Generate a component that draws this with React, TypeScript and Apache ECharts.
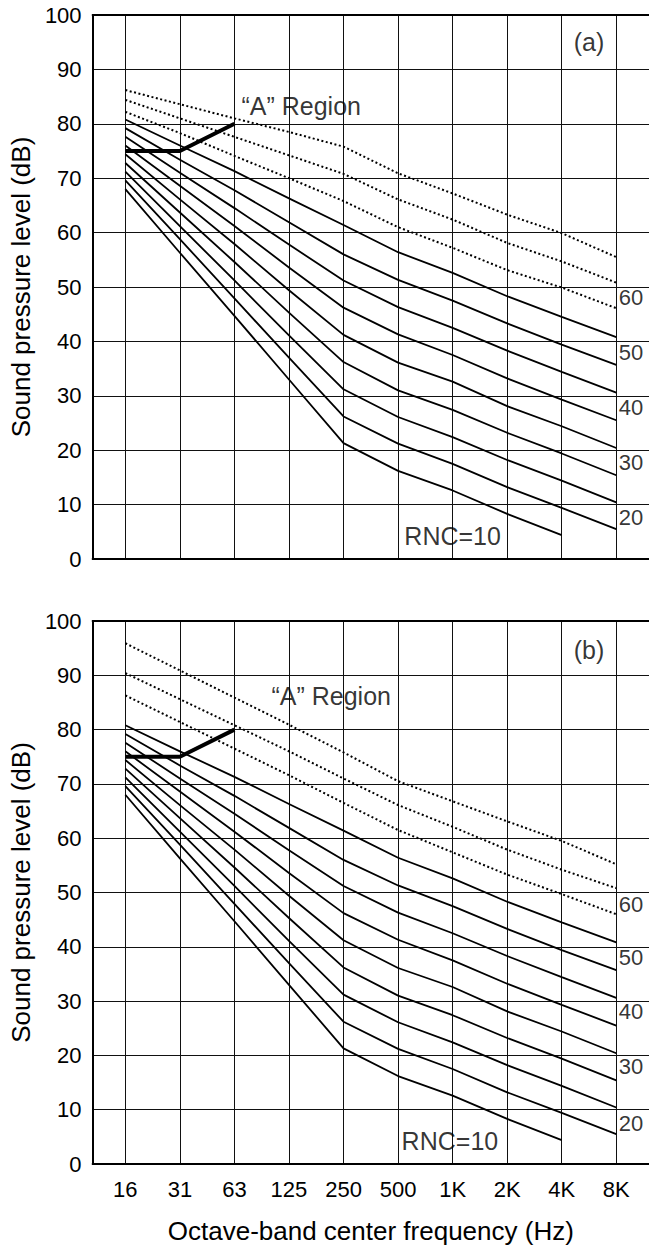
import React, { useEffect, useRef } from "react";
import * as echarts from "echarts";

// ---------- data ----------
const freqLabels = ["16", "31", "63", "125", "250", "500", "1K", "2K", "4K", "8K"];
const freqIdx = [0, 1, 2, 3, 4, 5, 6, 7, 8, 9];
const yTicks = { min: 0, max: 100, step: 10 };

// solid RNC curves (same in both panels), dB at each octave band
const rnc10 = [68.0, 56.3, 44.7, 33.0, 21.3, 16.2, 12.6, 8.3, 4.4, null];
const rnc15 = [69.6, 58.8, 47.9, 37.0, 26.2, 21.2, 17.5, 13.2, 9.4, 5.5];
const rnc20 = [71.2, 61.2, 51.2, 41.1, 31.2, 26.1, 22.4, 18.2, 14.4, 10.4];
const rnc25 = [72.8, 63.7, 54.6, 45.3, 36.2, 31.0, 27.4, 23.2, 19.4, 15.4];
const rnc30 = [74.4, 66.1, 57.9, 49.4, 41.2, 36.1, 32.6, 28.1, 24.4, 20.4];
const rnc35 = [76.0, 68.6, 61.2, 53.6, 46.2, 41.3, 37.5, 33.2, 29.3, 25.5];
const rnc40 = [77.6, 71.0, 64.5, 57.8, 51.2, 46.3, 42.5, 38.3, 34.4, 30.6];
const rnc45 = [79.2, 73.4, 67.8, 61.9, 56.0, 51.3, 47.5, 43.3, 39.4, 35.7];
const rnc50 = [80.8, 76.0, 71.3, 66.3, 61.4, 56.4, 52.6, 48.3, 44.5, 40.8];

// dotted curves, panel (a)
const dotA55 = [82.2, 78.3, 74.1, 70.0, 65.8, 61.0, 57.2, 53.1, 49.9, 46.1];
const dotA60 = [84.4, 81.0, 77.6, 74.2, 70.8, 66.1, 62.4, 58.1, 54.7, 50.8];
const dotA65 = [86.2, 83.6, 81.0, 78.5, 75.8, 70.9, 67.2, 63.3, 59.9, 55.5];

// dotted curves, panel (b)
const dotB55 = [86.3, 81.4, 76.5, 71.6, 66.5, 61.5, 57.4, 53.3, 49.7, 46.0];
const dotB60 = [90.4, 85.6, 80.8, 76.0, 71.0, 66.1, 62.1, 57.9, 54.2, 50.8];
const dotB65 = [95.9, 90.9, 85.9, 80.9, 75.8, 70.5, 66.8, 63.1, 59.5, 55.2];

// "A" region boundary (16, 31, 63 Hz)
const aRegion = [75, 75, 80];

// right-side RNC labels
const sideLabels = ["60", "50", "40", "30", "20"];
const sideLabelDbA = [48.0, 38.0, 27.9, 17.8, 7.7];
const sideLabelDbB = [47.8, 38.0, 28.0, 17.9, 7.5];

// text annotations: [x(index), y(dB)]
const panelTags = ["(a)", "(b)"];
const tagPos = [[8.5, 95.0], [8.5, 94.7]];
const regionText = "\u201CA\u201D Region";
const regionPos = [[2.12, 83.3], [2.67, 86.1]];
const rncText = "RNC=10";
const rncPos = [[6.0, 4.2], [5.95, 4.2]];

const yTitle = "Sound pressure level (dB)";
const xTitle = "Octave-band center frequency (Hz)";

// ---------- chart ----------
const FONT = "Liberation Sans, Arial, Helvetica, sans-serif";

function toPoints(vals: (number | null)[]) {
  return vals
    .map((v, i) => [i, v])
    .filter((p) => p[1] !== null) as number[][];
}

function buildOption() {
  const solid = [rnc10, rnc15, rnc20, rnc25, rnc30, rnc35, rnc40, rnc45, rnc50];
  const dotted = [
    [dotA55, dotA60, dotA65],
    [dotB55, dotB60, dotB65],
  ];
  const sideDb = [sideLabelDbA, sideLabelDbB];

  const grids = [
    { left: 91, right: 0, top: 15, height: 544 },
    { left: 87, right: 0, top: 621, height: 547 },
  ];

  const xAxes: any[] = [0, 1].map((g) => ({
    type: "value",
    gridIndex: g,
    min: -0.6,
    max: 9.6,
    axisLine: { show: true, onZero: false, lineStyle: { color: "#000", width: 2 } },
    axisTick: { show: false, customValues: freqIdx },
    axisLabel: {
      show: g === 1,
      customValues: freqIdx,
      formatter: (v: number) => freqLabels[Math.round(v)] ?? "",
      margin: 14,
      fontSize: 22,
      color: "#000",
      fontFamily: FONT,
    },
    splitLine: { show: true, lineStyle: { color: "#111", width: 1 } },
    name: g === 1 ? xTitle : "",
    nameLocation: "middle",
    nameGap: 54,
    nameTextStyle: { fontSize: 26, color: "#000", fontFamily: FONT },
  }));
  // top frame lines
  [0, 1].forEach((g) => {
    xAxes.push({
      type: "value",
      gridIndex: g,
      position: "top",
      min: -0.6,
      max: 9.6,
      axisLine: { show: true, onZero: false, lineStyle: { color: "#000", width: 2 } },
      axisTick: { show: false },
      axisLabel: { show: false },
      splitLine: { show: false },
    });
  });

  const yAxes = [0, 1].map((g) => ({
    type: "value",
    gridIndex: g,
    min: yTicks.min,
    max: yTicks.max,
    interval: yTicks.step,
    axisLine: { show: true, onZero: false, lineStyle: { color: "#000", width: 2 } },
    axisTick: { show: false },
    axisLabel: { margin: 11, fontSize: 22, color: "#000", fontFamily: FONT },
    splitLine: { show: true, lineStyle: { color: "#111", width: 1 } },
    name: yTitle,
    nameLocation: "middle",
    nameGap: 53,
    nameTextStyle: { fontSize: 26, color: "#000", fontFamily: FONT },
  }));

  const series: any[] = [];
  [0, 1].forEach((p) => {
    solid.forEach((vals, k) => {
      series.push({
        type: "line",
        name: "RNC " + (10 + 5 * k),
        xAxisIndex: p,
        yAxisIndex: p,
        data: toPoints(vals),
        symbol: "none",
        silent: true,
        lineStyle: { color: "#000", width: 1.8 },
        z: 3,
      });
    });
    dotted[p].forEach((vals, k) => {
      series.push({
        type: "line",
        name: "RNC " + (55 + 5 * k),
        xAxisIndex: p,
        yAxisIndex: p,
        data: toPoints(vals),
        symbol: "none",
        silent: true,
        lineStyle: { color: "#000", width: 2, type: [2, 2.5] },
        z: 3,
      });
    });
    series.push({
      type: "line",
      name: "A region",
      xAxisIndex: p,
      yAxisIndex: p,
      data: toPoints(aRegion),
      symbol: "none",
      silent: true,
      lineStyle: { color: "#000", width: 4 },
      z: 4,
    });
    // side labels
    series.push({
      type: "scatter",
      xAxisIndex: p,
      yAxisIndex: p,
      symbolSize: 1,
      itemStyle: { color: "rgba(0,0,0,0)" },
      silent: true,
      data: sideLabels.map((t, i) => ({ value: [9, sideDb[p][i]], name: t })),
      label: {
        show: true,
        position: "right",
        distance: 2,
        formatter: "{b}",
        fontSize: 22,
        color: "#000",
        fontFamily: FONT,
      },
      z: 5,
    });
    // centered texts
    series.push({
      type: "scatter",
      xAxisIndex: p,
      yAxisIndex: p,
      symbolSize: 1,
      itemStyle: { color: "rgba(0,0,0,0)" },
      silent: true,
      data: [
        { value: tagPos[p], name: panelTags[p] },
        { value: rncPos[p], name: rncText },
      ],
      label: {
        show: true,
        position: "inside",
        formatter: "{b}",
        fontSize: 25,
        color: "#000",
        fontFamily: FONT,
      },
      z: 5,
    });
    // "A" Region text (left aligned)
    series.push({
      type: "scatter",
      xAxisIndex: p,
      yAxisIndex: p,
      symbolSize: 1,
      itemStyle: { color: "rgba(0,0,0,0)" },
      silent: true,
      data: [{ value: regionPos[p], name: regionText }],
      label: {
        show: true,
        position: "right",
        distance: 0,
        formatter: "{b}",
        fontSize: 25,
        color: "#000",
        fontFamily: FONT,
      },
      z: 5,
    });
  });

  return {
    animation: false,
    backgroundColor: "#fff",
    grid: grids,
    xAxis: xAxes,
    yAxis: yAxes,
    series,
  };
}

export default function App() {
  const ref = useRef<HTMLDivElement>(null);
  useEffect(() => {
    if (!ref.current) return;
    const chart = echarts.init(ref.current, undefined, { renderer: "svg" });
    chart.setOption(buildOption() as any);
    return () => chart.dispose();
  }, []);
  return (
    <div
      ref={ref}
      style={{ position: "absolute", left: 0, top: 0, width: 649, height: 1245, background: "#fff" }}
    />
  );
}
